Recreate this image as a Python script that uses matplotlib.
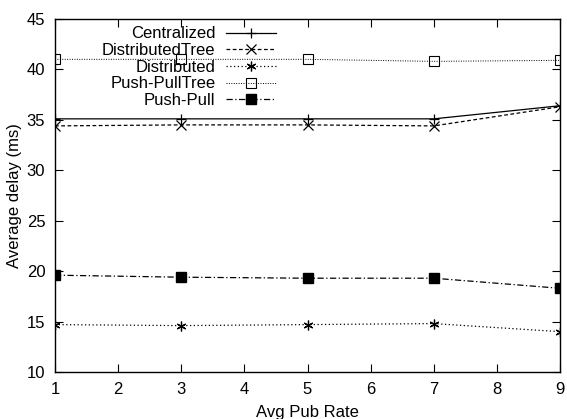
import matplotlib
matplotlib.use("Agg")
import matplotlib.pyplot as plt

rates = [1, 3, 5, 7, 9]
centralized = [35.1, 35.1, 35.1, 35.1, 36.4]
distributed_tree = [34.4, 34.5, 34.5, 34.4, 36.3]
distributed = [14.7, 14.6, 14.7, 14.8, 14.0]
push_pull_tree = [41.0, 41.0, 41.0, 40.8, 40.9]
push_pull = [19.6, 19.4, 19.3, 19.3, 18.3]

plt.rcParams["font.family"] = ["Liberation Sans", "DejaVu Sans"]
plt.rcParams["font.size"] = 12

fig = plt.figure(figsize=(5.67, 4.19), dpi=100)
ax = fig.add_axes([55 / 567, 47 / 419, 505 / 567, 353 / 419])

lw = 0.9
ax.plot(rates, centralized, color="black", lw=lw, ls="-", marker="+",
        ms=7.5, mew=0.9, label="Centralized")
ax.plot(rates, distributed_tree, color="black", lw=lw, ls=(0, (3, 2)), marker="x",
        ms=6.5, mew=0.9, label="DistributedTree")
ax.plot(rates, distributed, color="black", lw=lw, ls=(0, (1, 2)), marker=(6, 2, 0),
        ms=7, mew=0.9, label="Distributed")
ax.plot(rates, push_pull_tree, color="black", lw=0.7, ls=(0, (1, 1.5)), marker="s",
        ms=6.5, mew=0.8, mfc="none", label="Push-PullTree")
ax.plot(rates, push_pull, color="black", lw=lw, ls=(0, (5, 2, 1, 2)), marker="s",
        ms=6.5, mfc="black", label="Push-Pull")

ax.set_xlim(1, 9)
ax.set_ylim(10, 45)
ax.set_xticks(range(1, 10))
ax.set_yticks(range(10, 46, 5))
ax.tick_params(direction="in", top=True, right=True, length=6, width=0.8, pad=7)
ax.set_xlabel("Avg Pub Rate", labelpad=6)
ax.set_ylabel("Average delay (ms)", labelpad=3)
for s in ax.spines.values():
    s.set_linewidth(1.0)

ax.legend(loc="upper left", bbox_to_anchor=(0.078, 1.0), frameon=False,
          markerfirst=False, alignment="right", handlelength=3.0,
          labelspacing=0.1, handletextpad=0.65, borderaxespad=0.05)

fig.savefig("out.png", dpi=100)
